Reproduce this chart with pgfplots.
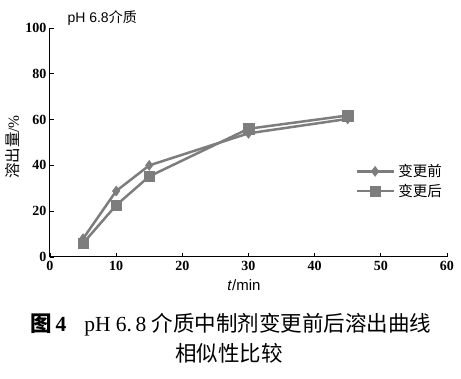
\documentclass[border=0pt]{standalone}
\usepackage{fontspec}
\setmainfont{Liberation Serif}
\setsansfont{Liberation Sans}
\newfontfamily\cjk{Noto Sans CJK SC}
\usepackage{pgfplots}
\pgfplotsset{compat=1.18}
\definecolor{sgray}{RGB}{125,125,125}
\begin{document}
\begin{tikzpicture}
\path (-50pt,-122pt) rectangle (411pt,257pt);
\begin{axis}[
  at={(0pt,0pt)}, anchor=origin,
  scale only axis, width=397pt, height=229pt,
  xmin=0, xmax=60, ymin=0, ymax=100,
  axis lines*=left,
  axis line style={line width=1pt, black},
  tick align=inside,
  major tick length=4pt,
  tick style={line width=0.8pt, black},
  xtick={0,10,...,60}, ytick={0,20,...,100},
  /pgf/number format/assume math mode=true,
  tick label style={font=\fontsize{14}{14}\selectfont\bfseries},
  xticklabel style={yshift=-1pt},
  legend style={draw=none, fill=none, at={(0.770,0.405)}, anchor=north west,
    font=\fontsize{14.5}{17}\selectfont\cjk, row sep=6pt, inner sep=0pt,
    nodes={inner sep=0pt},
    /tikz/every odd column/.append style={column sep=3pt}},
  legend cell align=left,
  legend image code/.code={\draw[mark repeat=2,mark phase=2,#1] plot coordinates {(0pt,0pt) (18pt,0pt) (37pt,0pt)};},
  clip=false,
]
\addplot[color=sgray, line width=2.5pt, mark=diamond*, mark size=5pt, mark options={line width=0.5pt}]
  coordinates {(5,8) (10,28.8) (15,40) (30,54) (45,60.3)};
\addlegendentry{变更前}
\addplot[color=sgray, line width=2.5pt, mark=square*, mark size=5.3pt, mark options={line width=0.5pt}]
  coordinates {(5,6) (10,22.6) (15,35.2) (30,56) (45,61.8)};
\addlegendentry{变更后}
\end{axis}
\node[anchor=west, font=\fontsize{14}{14}\selectfont\sffamily] at (14pt,239pt) {pH 6.8{\cjk 介质}};
\node[rotate=90, font=\fontsize{15.5}{15.5}\selectfont] at (-37pt,110pt) {{\cjk 溶出量}/\%};
\node[font=\fontsize{15}{15}\selectfont\sffamily] at (194pt,-28pt) {\textit{t}/min};
\node[anchor=west, font=\fontsize{21.5}{21.5}\selectfont] at (-23pt,-68pt) {{\cjk\bfseries 图}\,\textbf{4}\hspace{18pt}pH 6.\,8 {\cjk 介质中制剂变更前后溶出曲线}};
\node[font=\fontsize{21.5}{21.5}\selectfont\cjk] at (179pt,-96pt) {相似性比较};
\end{tikzpicture}
\end{document}
